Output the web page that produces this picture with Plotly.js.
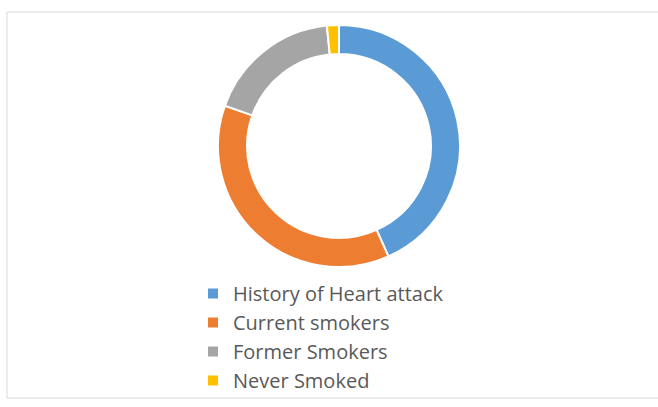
<!DOCTYPE html>
<html>
<head>
<meta charset="utf-8">
<script src="https://cdn.plot.ly/plotly-3.0.1.min.js"></script>
<style>html,body{margin:0;padding:0;background:#fff;}#chart{width:658px;height:407px;}</style>
</head>
<body>
<div id="chart"></div>
<script>
const categories = ["History of Heart attack", "Current smokers", "Former Smokers", "Never Smoked"];
const values = [43.3, 37.1, 18.0, 1.6];
const colors = ["#5B9BD5", "#ED7D31", "#A5A5A5", "#FFC000"];

const W = 658, H = 407;
const cx = 339, cy = 146, r = 121;

const trace = {
  type: "pie",
  labels: categories,
  values: values,
  hole: 0.76,
  sort: false,
  direction: "clockwise",
  rotation: 0,
  textinfo: "none",
  hoverinfo: "label+value",
  marker: { colors: colors, line: { color: "#ffffff", width: 2 } },
  domain: {
    x: [(cx - r) / W, (cx + r) / W],
    y: [(H - cy - r) / H, (H - cy + r) / H]
  }
};

const layout = {
  width: W, height: H,
  margin: { l: 0, r: 0, t: 0, b: 0, autoexpand: false },
  paper_bgcolor: "#ffffff",
  showlegend: true,
  legend: {
    x: 193 / W, y: (H - 274) / H,
    xanchor: "left", yanchor: "top",
    bgcolor: "rgba(0,0,0,0)",
    font: { family: "Open Sans, Noto Sans, sans-serif", size: 20, color: "#595959" },
    itemwidth: 30,
    tracegroupgap: 0
  },
  shapes: [{
    type: "rect", xref: "paper", yref: "paper",
    x0: 7 / W, x1: 1.01, y0: (H - 398) / H, y1: (H - 12) / H,
    line: { color: "#D9D9D9", width: 1 }, fillcolor: "rgba(0,0,0,0)"
  }]
};

Plotly.newPlot("chart", [trace], layout, { displayModeBar: false, staticPlot: true });
</script>
</body>
</html>
